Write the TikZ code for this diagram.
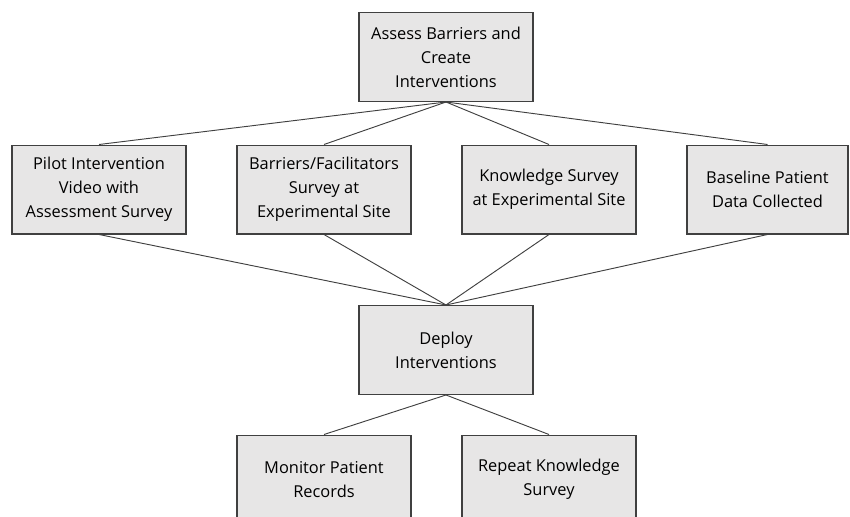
\documentclass[tikz,border=0pt]{standalone}
\usepackage{fontspec}
\setmainfont{Open Sans}
\definecolor{boxfill}{HTML}{E7E6E6}
\definecolor{boxline}{HTML}{404040}
\definecolor{linkline}{HTML}{404040}
\begin{document}
\begin{tikzpicture}[x=0.75pt,y=-0.75pt,
  stagebox/.style={draw=boxline,line width=1pt,fill=boxfill,
    minimum width=130.5pt,minimum height=66.5pt,inner sep=0pt,
    align=center,font=\fontsize{12.3}{18}\selectfont},
  link/.style={draw=linkline,line width=0.7pt}]
\useasboundingbox (0,0) rectangle (850,517);
\clip (0,0) rectangle (850,517);

% planning stage
\node[stagebox] (assess) at (446,57) {Assess Barriers and\\Create\\Interventions};

% baseline activities
\node[stagebox] (pilot) at (99,189.5) {Pilot Intervention\\Video with\\Assessment Survey};
\node[stagebox] (barriers) at (324,189.5) {Barriers/Facilitators\\Survey at\\Experimental Site};
\node[stagebox] (knowledge) at (549,189.5) {Knowledge Survey\\at Experimental Site};
\node[stagebox,minimum width=120.75pt] (baseline) at (767.5,189.5) {Baseline Patient\\Data Collected};

% deployment
\node[stagebox] (deploy) at (446,350) {Deploy\\Interventions};

% follow-up
\node[stagebox] (monitor) at (324,479.5) {Monitor Patient\\Records};
\node[stagebox] (repeat) at (549,479.5) {Repeat Knowledge\\Survey};

% connectors
\foreach \n in {pilot,barriers,knowledge,baseline}{
  \draw[link] (assess.south) -- (\n.north);
  \draw[link] (\n.south) -- (deploy.north);
}
\draw[link] (deploy.south) -- (monitor.north);
\draw[link] (deploy.south) -- (repeat.north);
\end{tikzpicture}
\end{document}
